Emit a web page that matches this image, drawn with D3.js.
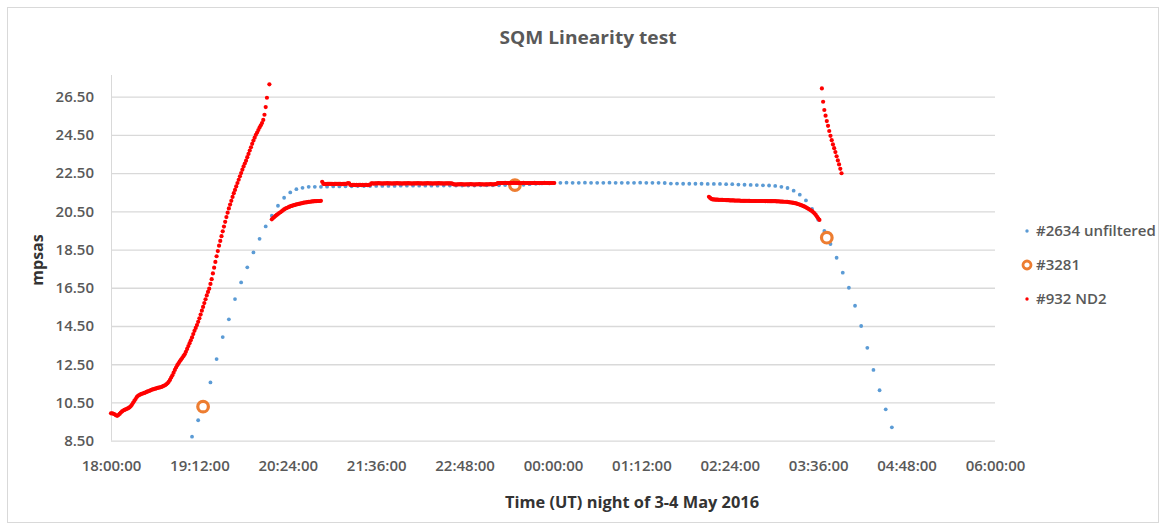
<!DOCTYPE html>
<html>
<head>
<meta charset="utf-8">
<script src="https://cdnjs.cloudflare.com/ajax/libs/d3/7.8.5/d3.min.js"></script>
<style>
  body { margin: 0; background: #fff; }
  svg text { font-family: "Open Sans", "Noto Sans", sans-serif; }
</style>
</head>
<body>
<script>
// x axis: clock time, 18:00 -> 06:00 next morning
var xTickLabels = ["18:00:00", "19:12:00", "20:24:00", "21:36:00", "22:48:00", "00:00:00",
                   "01:12:00", "02:24:00", "03:36:00", "04:48:00", "06:00:00"];
var yTicks = [8.5, 10.5, 12.5, 14.5, 16.5, 18.5, 20.5, 22.5, 24.5, 26.5];
var yMax = 27.63;

// #2634 unfiltered, one reading every 5 minutes from 19:06
var blueStart = "19:06", blueStep = 5;
var blueValues = [
  8.71, 9.57, 10.45, 11.55, 12.77, 13.92, 14.85, 15.91, 16.78, 17.57, 18.35,
  19.06, 19.71, 20.27, 20.79, 21.21, 21.49, 21.66, 21.73, 21.78, 21.78, 21.78,
  21.79, 21.80, 21.80, 21.81, 21.81, 21.82, 21.82, 21.82, 21.83, 21.83, 21.83,
  21.83, 21.84, 21.84, 21.84, 21.84, 21.84, 21.84, 21.84, 21.85, 21.85, 21.85,
  21.85, 21.85, 21.85, 21.86, 21.86, 21.86, 21.86, 21.87, 21.87, 21.87,
  21.89, 21.92, 21.94, 21.96, 21.98,
  21.99, 21.99, 22.00, 21.99, 21.99, 22.00, 21.99, 21.99, 21.99, 22.00,
  21.99, 21.99, 21.99, 21.99, 22.00, 21.99, 21.99, 21.99, 21.98,
  21.95, 21.95, 21.94, 21.94, 21.94, 21.94, 21.93, 21.93, 21.93, 21.92, 21.92,
  21.90, 21.89, 21.88, 21.87, 21.86, 21.85, 21.83,
  21.78, 21.72, 21.58, 21.37, 21.07, 20.62, 20.06, 19.47, 18.79, 18.07,
  17.29, 16.50, 15.56, 14.50, 13.36, 12.20, 11.14, 10.14, 9.20
];

// #3281 spot readings
var orangeTimes = ["19:15", "23:29", "03:43"];
var orangeValues = [10.28, 21.87, 19.12];

// #932 ND2, one reading per minute, in separate runs
var redRampStart = "18:00";
var redRamp = [
  9.93, 9.93, 9.91, 9.88, 9.83, 9.80, 9.84, 9.90, 9.97, 10.03,
  10.08, 10.11, 10.14, 10.17, 10.20, 10.24, 10.30, 10.38, 10.48, 10.58,
  10.68, 10.78, 10.85, 10.89, 10.92, 10.95, 10.97, 11.00, 11.02, 11.05,
  11.08, 11.10, 11.13, 11.16, 11.18, 11.20, 11.22, 11.24, 11.26, 11.28,
  11.29, 11.31, 11.34, 11.37, 11.40, 11.45, 11.50, 11.58, 11.68, 11.80,
  11.92, 12.06, 12.20, 12.33, 12.45, 12.55, 12.65, 12.74, 12.82, 12.92,
  13.02, 13.15, 13.30, 13.45, 13.60, 13.75, 13.90, 14.08, 14.25, 14.40,
  14.55, 14.72, 14.90, 15.10, 15.30, 15.50, 15.70, 15.90, 16.10, 16.28,
  16.45, 16.70, 16.95, 17.25, 17.55, 17.85, 18.15, 18.42, 18.70, 18.95,
  19.20, 19.45, 19.70, 19.95, 20.20, 20.43, 20.65, 20.85, 21.05, 21.25,
  21.45, 21.62, 21.80, 21.98, 22.15, 22.33, 22.50, 22.68, 22.85, 23.00,
  23.15, 23.33, 23.50, 23.68, 23.85, 24.03, 24.20, 24.35, 24.50, 24.62,
  24.75, 24.88, 25.00, 25.12, 25.28, 25.55, 25.95, 26.44, null, 27.14
];
var redRecoverStart = "20:11";
var redRecover = [
  20.08, 20.15, 20.20, 20.26, 20.31, 20.36, 20.41, 20.45, 20.50, 20.55,
  20.60, 20.64, 20.67, 20.70, 20.73, 20.76, 20.78, 20.80, 20.82, 20.84,
  20.86, 20.87, 20.89, 20.90, 20.92, 20.93, 20.95, 20.96, 20.97, 20.98,
  20.99, 21.00, 21.01, 21.02, 21.02, 21.03, 21.03, 21.04, 21.04, 21.04, 21.05
];
var redPlateauStart = "20:52";
var redPlateau = [
  22.04,
  21.93, 21.93, 21.92, 21.93, 21.93, 21.94, 21.93, 21.93, 21.92, 21.93,
  21.93, 21.93, 21.94, 21.93, 21.93, 21.92, 21.93, 21.93, 21.93, 21.94,
  21.97, 21.96,
  21.88, 21.87, 21.88, 21.88, 21.87, 21.88, 21.87, 21.88, 21.88, 21.87,
  21.88, 21.87, 21.88, 21.88, 21.87, 21.88, 21.89,
  21.96, 21.96, 21.95, 21.96, 21.96, 21.96, 21.97, 21.96, 21.96, 21.95,
  21.96, 21.96, 21.96, 21.97, 21.96, 21.96, 21.96, 21.95, 21.96, 21.96,
  21.96, 21.97, 21.96, 21.96, 21.96, 21.95, 21.96, 21.96, 21.96, 21.96,
  21.97, 21.96, 21.96, 21.95, 21.96, 21.96, 21.96, 21.96, 21.97, 21.96,
  21.96, 21.96, 21.95, 21.96, 21.96, 21.96, 21.97, 21.96, 21.96, 21.96,
  21.95, 21.96, 21.96, 21.96, 21.96, 21.97, 21.96, 21.96, 21.96, 21.95,
  21.96, 21.96, 21.96, 21.96, 21.96, 21.96, 21.95,
  21.91, 21.91, 21.90, 21.91, 21.91, 21.91, 21.92, 21.91, 21.91, 21.90,
  21.91, 21.91, 21.91, 21.91, 21.92, 21.91, 21.91, 21.90, 21.91, 21.91,
  21.91, 21.92, 21.91, 21.91, 21.91, 21.90, 21.91, 21.91, 21.91, 21.91,
  21.92, 21.91, 21.91, 21.91, 21.92, 21.93,
  21.98, 21.98, 21.97, 21.98, 21.98, 21.98, 21.99, 21.98, 21.98, 21.97,
  21.98, 21.98, 21.98, 21.99, 21.98, 21.98, 21.98, 21.97, 21.98, 21.98,
  21.98, 21.99, 21.98, 21.98, 21.98, 21.97, 21.98, 21.98, 21.98, 21.98,
  21.99, 21.98, 21.98, 21.98, 21.97, 21.98, 21.98, 21.98, 21.99, 21.98,
  21.98, 21.98, 21.97, 21.98, 21.98, 21.98, 21.98
];
var redDawnStart = "02:07";
var redDawn = [
  21.26, 21.20, 21.15,
  21.12, 21.12, 21.11, 21.11, 21.11, 21.10, 21.10, 21.10, 21.10, 21.09,
  21.09, 21.08, 21.08, 21.08, 21.07, 21.07, 21.07, 21.07, 21.06, 21.06,
  21.06, 21.06, 21.06, 21.05, 21.05, 21.05, 21.05, 21.05, 21.05, 21.05,
  21.05, 21.04, 21.04, 21.04, 21.04, 21.04, 21.04, 21.04, 21.04, 21.04,
  21.04, 21.04, 21.04, 21.03, 21.04, 21.03, 21.03, 21.03, 21.03, 21.03,
  21.03, 21.03, 21.02, 21.02, 21.02, 21.01, 21.01, 21.01, 21.00, 21.00,
  21.00, 20.99, 20.98, 20.97, 20.96, 20.95, 20.94, 20.93, 20.91, 20.89,
  20.87, 20.85, 20.82, 20.80, 20.77, 20.74, 20.71, 20.67, 20.63, 20.59,
  20.55, 20.51, 20.45, 20.39, 20.31, 20.22, 20.13, 20.05
];
var redDawnTopStart = "03:39";
var redDawnTop = [
  26.93, 26.23, 25.80, 25.50, 25.22, 24.97, 24.70, 24.45, 24.22, 24.00,
  23.80, 23.60, 23.38, 23.16, 22.95, 22.72, 22.49
];

var W = 1163, H = 527;
var plotL = 111, plotR = 995, plotT = 75, plotB = 440.7;
var blue = "#5B9BD5", orange = "#ED7D31", red = "#FF0000";
var grid = "#D9D9D9", labelColor = "#595959";

// minutes after 18:00, rolling past midnight
function minutes(hhmm) {
  var p = hhmm.split(":").map(Number);
  var h = p[0] < 12 ? p[0] + 24 : p[0];
  return (h - 18) * 60 + p[1];
}
function run(start, step, values) {
  var t0 = minutes(start);
  return values.map(function(v, i) { return {t: t0 + i * step, v: v}; })
               .filter(function(d) { return d.v !== null; });
}

var blueData = run(blueStart, blueStep, blueValues);
var orangeData = orangeTimes.map(function(t, i) { return {t: minutes(t), v: orangeValues[i]}; });
var redData = [].concat(
  run(redRampStart, 1, redRamp),
  run(redRecoverStart, 1, redRecover),
  run(redPlateauStart, 1, redPlateau),
  run(redDawnStart, 1, redDawn),
  run(redDawnTopStart, 1, redDawnTop)
);

var x = d3.scaleLinear().domain([0, 720]).range([plotL, plotR]);
var y = d3.scaleLinear().domain([8.5, yMax]).range([plotB, plotT]);

var svg = d3.select("body").append("svg")
  .attr("width", W)
  .attr("height", H);

svg.append("rect")
  .attr("x", 0).attr("y", 0).attr("width", W).attr("height", H)
  .attr("fill", "#fff");

// chart border
svg.append("rect")
  .attr("x", 7.5).attr("y", 7.5)
  .attr("width", W - 12).attr("height", H - 12)
  .attr("fill", "none")
  .attr("stroke", grid);

// y axis with gridlines
var yAxis = svg.append("g")
  .attr("transform", "translate(" + plotL + ",0)")
  .call(d3.axisLeft(y)
    .tickValues(yTicks)
    .tickFormat(d3.format(".2f"))
    .tickSizeInner(-(plotR - plotL))
    .tickSizeOuter(0)
    .tickPadding(17));
yAxis.select(".domain").attr("stroke", grid).attr("d", "M0.5," + plotT + "V" + plotB);
yAxis.selectAll(".tick line").attr("stroke", grid).attr("stroke-width", 1.3);
yAxis.selectAll("text")
  .attr("fill", labelColor)
  .style("font-size", "15px")
  .style("font-weight", "600");

// x axis labels
var xAxis = svg.append("g")
  .attr("transform", "translate(0," + plotB + ")")
  .call(d3.axisBottom(x)
    .tickValues(d3.range(0, 721, 72))
    .tickFormat(function(d, i) { return xTickLabels[i]; })
    .tickSize(0)
    .tickPadding(20));
xAxis.select(".domain").remove();
xAxis.selectAll("text")
  .attr("fill", labelColor)
  .style("font-size", "15px")
  .style("font-weight", "600");

// series: blue under orange under red
svg.append("g").selectAll("circle")
  .data(blueData)
  .enter()
  .append("circle")
  .attr("cx", function(d) { return x(d.t); })
  .attr("cy", function(d) { return y(d.v); })
  .attr("r", 1.9)
  .attr("fill", blue);

svg.append("g").selectAll("circle")
  .data(orangeData)
  .enter()
  .append("circle")
  .attr("cx", function(d) { return x(d.t); })
  .attr("cy", function(d) { return y(d.v); })
  .attr("r", 5.3)
  .attr("fill", "#fff")
  .attr("stroke", orange)
  .attr("stroke-width", 3.2);

svg.append("g").selectAll("circle")
  .data(redData)
  .enter()
  .append("circle")
  .attr("cx", function(d) { return x(d.t); })
  .attr("cy", function(d) { return y(d.v); })
  .attr("r", 2.1)
  .attr("fill", red);

// titles
svg.append("text")
  .attr("x", 588).attr("y", 44)
  .attr("text-anchor", "middle")
  .attr("fill", labelColor)
  .attr("textLength", 177)
  .attr("lengthAdjust", "spacingAndGlyphs")
  .style("font-size", "18px")
  .style("font-weight", "700")
  .text("SQM Linearity test");

svg.append("text")
  .attr("transform", "translate(43,260) rotate(-90)")
  .attr("text-anchor", "middle")
  .attr("fill", "#333")
  .style("font-size", "16px")
  .style("font-weight", "700")
  .text("mpsas");

svg.append("text")
  .attr("x", 632).attr("y", 508)
  .attr("text-anchor", "middle")
  .attr("fill", "#333")
  .attr("textLength", 254)
  .attr("lengthAdjust", "spacingAndGlyphs")
  .style("font-size", "16px")
  .style("font-weight", "700")
  .text("Time (UT) night of 3-4 May 2016");

// legend
var legendItems = ["#2634 unfiltered", "#3281", "#932 ND2"];
var legend = svg.append("g").attr("transform", "translate(1027,0)");
var rows = legend.selectAll("g")
  .data(legendItems)
  .enter()
  .append("g")
  .attr("transform", function(d, i) { return "translate(0," + [231, 265, 299][i] + ")"; });
rows.each(function(d, i) {
  var g = d3.select(this);
  if (i === 0) g.append("circle").attr("r", 1.7).attr("fill", blue);
  if (i === 1) g.append("circle").attr("r", 4).attr("fill", "#fff")
                 .attr("stroke", orange).attr("stroke-width", 2.8);
  if (i === 2) g.append("circle").attr("r", 1.7).attr("fill", red);
});
rows.append("text")
  .attr("x", 9)
  .attr("dy", "0.35em")
  .attr("fill", labelColor)
  .style("font-size", "15px")
  .style("font-weight", "600")
  .text(function(d) { return d; });
</script>
</body>
</html>
